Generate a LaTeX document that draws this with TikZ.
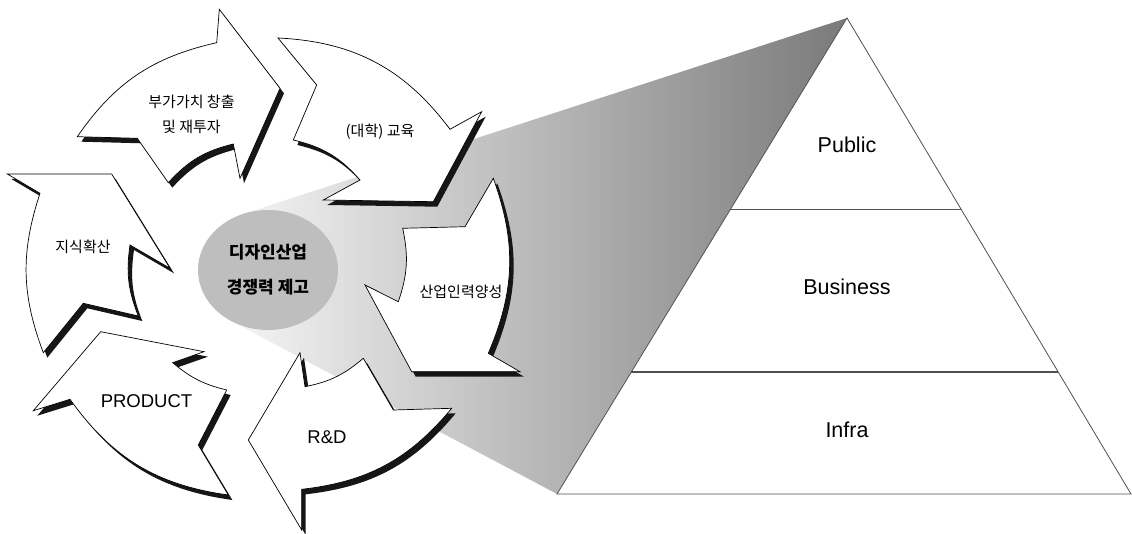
\documentclass[tikz,border=0pt]{standalone}
\usepackage{fontspec}
\setmainfont{Liberation Sans}
\newfontfamily\kr{Noto Sans CJK KR}
\usetikzlibrary{calc,shapes.geometric}
\definecolor{beamL}{RGB}{245,245,245}
\definecolor{beamR}{RGB}{122,122,122}
\definecolor{coregray}{RGB}{190,190,190}
\definecolor{shadowc}{RGB}{22,22,22}
\definecolor{pyrline}{RGB}{80,80,80}
\newcommand\cycA{(77.3,136.7) to[bend left=21.4] (216.7,42.7) -- (219.3,9.3) -- (280,88.3) -- (240,178.3) -- (233.3,144) to[bend right=17] (168.3,182.7) -- (137.3,138.3) -- cycle}
\newcommand\cycB{(278,38) to[bend left=25.2] (450,129.3) -- (481.7,111.7) -- (433.3,201.7) -- (323.3,200) -- (360,180) to[bend right=17.7] (293.3,140) -- (316.7,85) -- cycle}
\newcommand\cycC{(493.3,178.3) to[bend left=21.5] (488.3,353.3) -- (520,371.7) -- (411.7,371.7) -- (365,285) -- (398.3,301.7) to[bend right=15.5] (402.7,228.3) -- (465,226.7) -- cycle}
\newcommand\cycD{(451.7,408.3) to[bend left=21.9] (301.7,489.3) -- (301.7,530) -- (248.3,440) -- (300,352.7) -- (305,386.7) to[bend right=14.5] (363.3,358.3) -- (393.3,410) -- cycle}
\newcommand\cycE{(228.3,495) to[bend left=23.2] (70,399.3) -- (33.3,410.7) -- (100.7,331.7) -- (204,351.7) -- (172.7,362.7) to[bend right=13.2] (226.7,390) -- (198.3,445) -- cycle}
\newcommand\cycF{(43.3,352.7) to[bend left=19.4] (40,193.3) -- (7.3,174) -- (111.7,174) -- (170,268.3) -- (130,245) to[bend right=14.9] (138.3,316) -- (83.3,303.3) -- cycle}
\begin{document}
\begin{tikzpicture}[x=1pt,y=-1pt,
  cyclebox/.style={fill=white,draw=black,line width=0.7pt,line join=miter},
  cycleshadow/.style={fill=shadowc,shift={(4,5)}},
  krlabel/.style={font=\kr\fontsize{15}{25}\selectfont,align=center,inner sep=0pt},
  enlabel/.style={font=\fontsize{18.5}{22}\selectfont,inner sep=0pt},
  pyrlabel/.style={font=\fontsize{21.5}{26}\selectfont,inner sep=0pt},
  pyredge/.style={draw=pyrline,line width=0.8pt},
  pyrstep/.style={draw=pyrline,line width=1.2pt}]
\useasboundingbox (0,0) rectangle (1132,534);
\fill[white] (0,0) rectangle (1132,534);
% beam towards the pyramid
\coordinate (apex) at (847,18);
\coordinate (bl) at (557,494);
\coordinate (br) at (1131,494);
\coordinate (tu) at (243.3,213.9);
\coordinate (tl) at (231.2,321);
\shade[left color=beamL,right color=beamR] (tu) -- (apex) -- (bl) -- (tl) -- cycle;
% centre
\node[ellipse,fill=coregray,minimum width=140pt,minimum height=120pt,inner sep=0pt,
      font=\kr\bfseries\fontsize{17}{35}\selectfont,align=center] (core) at (268,270) {디자인산업\\경쟁력 제고};
% shadows
\fill[cycleshadow] \cycA;
\fill[cycleshadow] \cycB;
\fill[cycleshadow] \cycC;
\fill[cycleshadow] \cycD;
\fill[cycleshadow] \cycE;
\fill[cycleshadow] \cycF;
% arrows
\draw[cyclebox] \cycA;
\draw[cyclebox] \cycB;
\draw[cyclebox] \cycC;
\draw[cyclebox] \cycD;
\draw[cyclebox] \cycE;
\draw[cyclebox] \cycF;
% labels
\node[krlabel] (l1) at (191.5,114.5) {부가가치 창출\\및 재투자};
\node[krlabel] (l2) at (380,132) {(대학) 교육};
\node[krlabel] (l3) at (461,292) {산업인력양성};
\node[enlabel] (l4) at (327,437) {R\&D};
\node[enlabel] (l5) at (146.5,401) {PRODUCT};
\node[krlabel] (l6) at (83,247) {지식확산};
% pyramid
\draw[pyredge,fill=white] (apex) -- (bl) -- (br) -- cycle;
\draw[pyrstep] ($(apex)!0.4023!(bl)$) -- ($(apex)!0.4023!(br)$);
\draw[pyrstep] ($(apex)!0.7437!(bl)$) -- ($(apex)!0.7437!(br)$);
\node[pyrlabel] (pub) at (847,145) {Public};
\node[pyrlabel] (bus) at (847,287) {Business};
\node[pyrlabel] (inf) at (847,430) {Infra};
\end{tikzpicture}
\end{document}
